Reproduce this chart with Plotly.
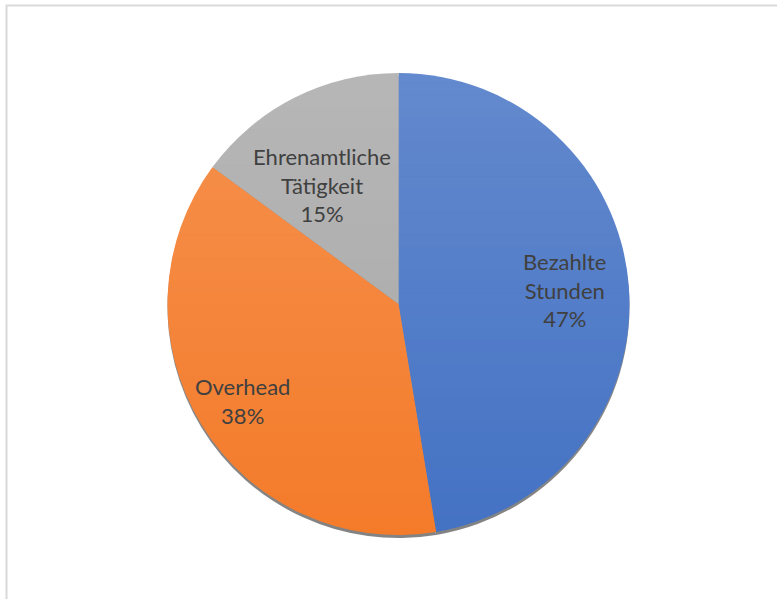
import math
import plotly.graph_objects as go

labels = ["Bezahlte<br>Stunden", "Overhead", "Ehrenamtliche<br>Tätigkeit"]
values = [47.4, 37.7, 14.9]
percent_labels = ["47%", "38%", "15%"]
colors = ["#4472c4", "#f47b2a", "#a8a8a8"]

W, H = 777, 599
cx, cy, r = 398.5, 304.0, 231.0
label_radius = [0.72, 0.80, 0.60]   # radial placement of labels (fraction of radius)
label_xshift = [0, 2, -14]
label_yshift = [0, 0, -5]

def dom(offset_y=0.0):
    return dict(
        x=[(cx - r) / W, (cx + r) / W],
        y=[(H - cy - r - offset_y) / H, (H - cy + r - offset_y) / H],
    )

fig = go.Figure()
# soft shadow
fig.add_trace(go.Pie(
    labels=labels, values=values, sort=False, direction="clockwise", rotation=0,
    marker=dict(colors=["rgba(90,90,90,0.75)"] * 3, line=dict(width=0)),
    textinfo="none", hoverinfo="skip", showlegend=False, domain=dom(3),
))
fig.add_trace(go.Pie(
    labels=labels, values=values, sort=False, direction="clockwise", rotation=0,
    marker=dict(colors=colors, line=dict(width=0)),
    textinfo="none", showlegend=False, domain=dom(0),
))

# labels positioned from the data (mid-angle of each slice)
total = sum(values)
annotations = []
cum = 0.0
for lab, v, pl, rf, xs, ys in zip(labels, values, percent_labels, label_radius,
                                  label_xshift, label_yshift):
    mid = (cum + v / 2) / total * 2 * math.pi
    cum += v
    px = cx + rf * r * math.sin(mid)
    py = cy - rf * r * math.cos(mid)
    annotations.append(dict(
        x=px / W, y=1 - py / H, xref="paper", yref="paper",
        xanchor="center", yanchor="middle",
        text=f"{lab}<br>{pl}", showarrow=False, xshift=xs, yshift=ys,
        font=dict(family="Lato", size=22, color="#404040"), align="center",
    ))

shapes = []
# light gradient overlay (top lighter)
n = 40
top, bot = cy - r - 2, cy + r + 4
for i in range(n):
    y0 = top + (bot - top) * i / n
    y1 = top + (bot - top) * (i + 1) / n
    a = 0.17 * (1 - (i + 0.5) / n)
    shapes.append(dict(type="rect", xref="paper", yref="paper",
                       x0=(cx - r - 2) / W, x1=(cx + r + 2) / W,
                       y0=1 - y1 / H, y1=1 - y0 / H,
                       fillcolor=f"rgba(255,255,255,{a:.3f})", line=dict(width=0),
                       layer="above"))
# chart frame
shapes.append(dict(type="rect", xref="paper", yref="paper",
                   x0=6.5 / W, x1=1.05, y0=-0.05, y1=1 - 5.5 / H,
                   line=dict(color="#d9d9d9", width=2), fillcolor="rgba(0,0,0,0)"))

fig.update_layout(
    width=W, height=H, margin=dict(l=0, r=0, t=0, b=0),
    paper_bgcolor="white", plot_bgcolor="white", shapes=shapes,
    annotations=annotations,
)
fig.write_html("out.html")
